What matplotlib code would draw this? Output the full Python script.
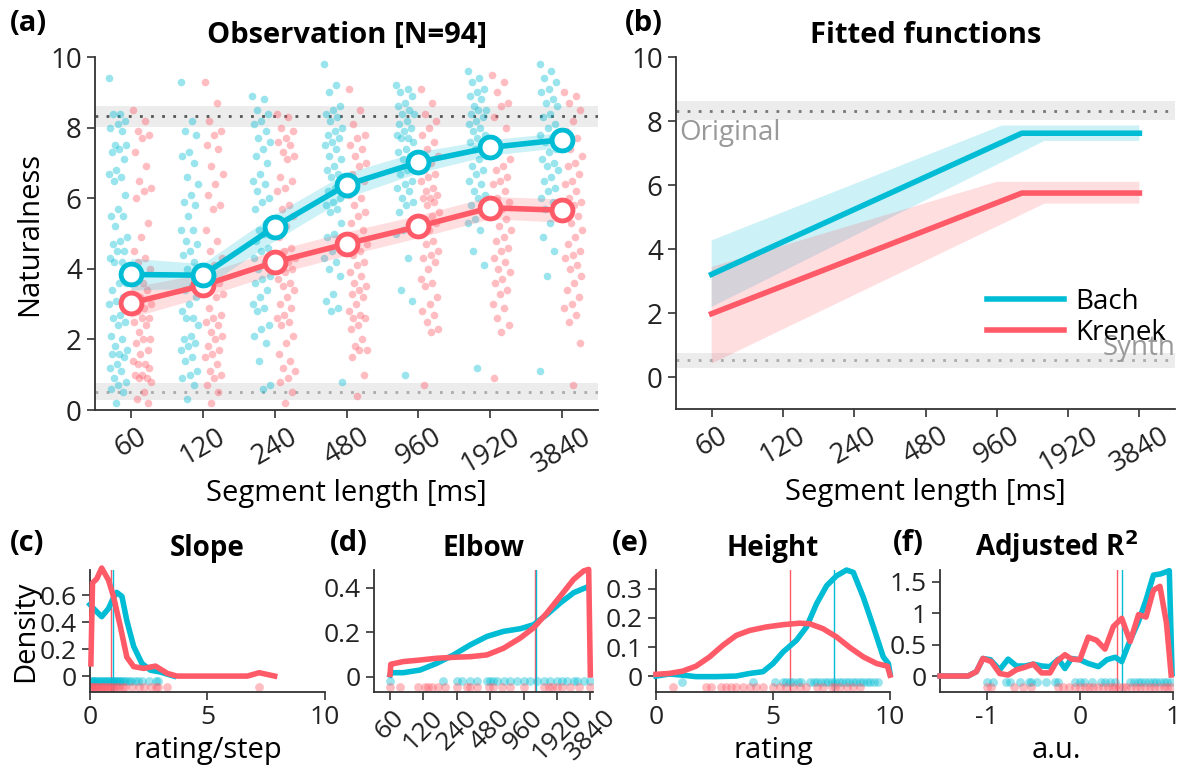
import numpy as np
import matplotlib.pyplot as plt
from matplotlib.ticker import FuncFormatter

plt.rcParams.update({'font.family': ['Open Sans', 'DejaVu Sans'],
                     'axes.unicode_minus': False,
                     'axes.edgecolor': '#333333',
                     'axes.linewidth': 1.3,
                     'xtick.color': '#333333', 'ytick.color': '#333333',
                     'xtick.labelcolor': '#222222', 'ytick.labelcolor': '#222222'})

BLUE = '#00BCD4'
RED = '#FF5A68'

# ---- data ----
seg_labels = ['60', '120', '240', '480', '960', '1920', '3840']
seg_ms = [60, 120, 240, 480, 960, 1920, 3840]

bach_mean = [3.84, 3.82, 5.19, 6.38, 7.02, 7.44, 7.66]
bach_lo = [3.40, 3.45, 4.80, 6.02, 6.72, 7.22, 7.44]
bach_hi = [4.30, 4.15, 5.55, 6.72, 7.32, 7.66, 7.86]
krenek_mean = [3.03, 3.53, 4.19, 4.71, 5.20, 5.73, 5.66]
krenek_lo = [2.62, 3.20, 3.85, 4.38, 4.88, 5.42, 5.32]
krenek_hi = [3.48, 3.86, 4.52, 5.05, 5.52, 6.05, 5.98]

bach_pts = [
    [9.4, 8.4, 8.4, 8.2, 8.1, 8.0, 7.9, 7.5, 7.5, 7.4, 7.3, 7.1, 6.8, 6.7, 6.6, 6.5, 6.1, 5.7, 5.5, 5.5,
     5.2, 4.9, 4.8, 4.7, 4.5, 4.5, 4.3, 4.2, 4.2, 3.6, 3.6, 3.4, 3.2, 3.1, 3.0, 2.7, 2.6, 2.5, 2.4, 2.1,
     2.0, 1.8, 1.7, 1.6, 1.6, 1.5, 1.3, 1.2, 1.1, 0.9, 0.8, 0.7, 0.6, 0.5, 0.2],
    [9.3, 8.2, 7.9, 7.8, 7.3, 7.2, 7.0, 6.6, 6.4, 6.1, 5.9, 5.8, 5.5, 5.1, 5.1, 4.8, 4.7, 4.5, 4.4, 4.2,
     4.0, 3.6, 3.5, 3.4, 3.2, 3.0, 2.8, 2.6, 2.6, 2.4, 2.1, 2.0, 1.9, 1.8, 1.7, 1.5, 1.4, 1.1, 1.0, 0.9,
     0.7, 0.3],
    [8.9, 8.8, 8.5, 8.4, 8.2, 8.1, 7.9, 7.7, 7.6, 7.4, 7.2, 7.0, 6.7, 6.5, 6.4, 6.2, 6.0, 5.9, 5.7, 5.3,
     5.1, 5.1, 5.0, 4.8, 4.6, 4.5, 4.3, 4.2, 4.0, 3.8, 3.7, 3.6, 3.4, 3.2, 3.0, 2.9, 2.8, 2.4, 2.3, 2.1,
     1.9, 1.4, 0.7, 0.6],
    [9.8, 9.2, 9.0, 8.6, 8.5, 8.4, 8.3, 8.2, 8.0, 7.9, 7.8, 7.7, 7.6, 7.5, 7.4, 7.2, 7.1, 6.9, 6.8, 6.7,
     6.6, 6.5, 6.3, 6.2, 6.0, 5.9, 5.8, 5.7, 5.6, 5.3, 5.0, 4.9, 4.8, 4.5, 4.3, 4.2, 4.0, 3.8, 3.3, 3.1,
     2.9, 2.8, 0.8],
    [9.2, 9.1, 9.0, 8.9, 8.7, 8.6, 8.5, 8.4, 8.4, 8.2, 8.1, 8.0, 7.9, 7.8, 7.7, 7.7, 7.6, 7.4, 7.3, 7.2,
     7.1, 6.9, 6.8, 6.7, 6.5, 6.4, 6.3, 6.2, 6.0, 5.9, 5.8, 5.6, 5.3, 5.1, 5.0, 4.3, 3.4, 3.1, 1.0],
    [9.6, 9.4, 9.3, 9.1, 9.0, 8.9, 8.8, 8.6, 8.5, 8.5, 8.4, 8.3, 8.2, 8.1, 8.0, 7.9, 7.8, 7.7, 7.6, 7.5,
     7.4, 7.2, 7.1, 6.9, 6.8, 6.7, 6.5, 6.4, 6.2, 6.1, 6.0, 5.8, 5.6, 5.4, 5.3, 5.1, 4.5, 4.1, 1.2],
    [9.8, 9.6, 9.4, 9.3, 9.1, 9.0, 8.8, 8.7, 8.6, 8.4, 8.3, 8.1, 8.0, 7.8, 7.7, 7.6, 7.4, 7.3, 7.1, 7.0,
     6.9, 6.8, 6.6, 6.5, 6.3, 6.2, 6.0, 5.9, 5.7, 5.5, 5.3, 4.9, 4.5, 3.8, 1.1],
]
krenek_pts = [
    [8.5, 8.2, 7.9, 7.8, 7.7, 7.3, 6.9, 6.5, 6.3, 6.2, 6.0, 5.3, 4.9, 4.5, 4.3, 4.2, 4.0, 3.6, 3.6, 3.4,
     3.2, 3.0, 2.9, 2.8, 2.6, 2.6, 2.5, 2.4, 2.2, 2.0, 2.0, 1.9, 1.7, 1.6, 1.4, 1.3, 1.3, 1.2, 1.0, 1.0,
     0.9, 0.9, 0.8, 0.5, 0.3, 0.2],
    [9.3, 8.7, 8.2, 7.9, 7.8, 7.5, 7.4, 6.9, 6.7, 6.4, 6.1, 5.8, 5.7, 5.1, 4.8, 4.5, 4.3, 4.1, 3.7, 3.6,
     3.5, 3.3, 3.2, 2.9, 2.7, 2.6, 2.5, 2.4, 2.2, 2.1, 2.0, 1.8, 1.7, 1.6, 1.5, 1.3, 1.1, 1.0, 0.9, 0.7,
     0.5, 0.2],
    [8.4, 8.3, 8.0, 7.9, 7.7, 7.6, 7.5, 7.3, 7.2, 7.1, 6.6, 6.5, 6.3, 6.2, 5.8, 5.7, 5.5, 5.2, 4.9, 4.6,
     4.5, 4.3, 4.2, 4.1, 4.0, 3.9, 3.7, 3.6, 3.5, 3.4, 3.2, 3.0, 2.9, 2.7, 2.6, 2.5, 2.4, 2.1, 1.9, 1.6,
     1.4, 1.2, 1.1, 0.9, 0.8, 0.5, 0.2],
    [9.1, 8.5, 8.1, 7.8, 7.7, 7.5, 7.4, 7.2, 7.0, 6.9, 6.7, 6.5, 6.3, 6.1, 6.0, 5.8, 5.6, 5.5, 5.3, 5.1,
     4.9, 4.7, 4.5, 4.4, 4.2, 4.1, 3.9, 3.8, 3.6, 3.5, 3.4, 3.3, 3.2, 3.0, 2.8, 2.7, 2.6, 2.6, 2.4, 2.3,
     2.0, 1.8, 1.7, 1.7, 1.5, 1.0, 0.4],
    [9.1, 8.7, 8.4, 8.2, 8.0, 7.8, 7.6, 7.4, 7.2, 7.0, 6.8, 6.7, 6.6, 6.5, 6.3, 6.2, 6.1, 6.0, 6.0, 5.9,
     5.8, 5.6, 5.5, 5.4, 5.3, 5.1, 5.0, 4.8, 4.7, 4.5, 4.4, 4.3, 4.2, 4.0, 3.7, 3.6, 3.5, 3.2, 3.0, 2.8,
     2.7, 2.5, 2.3, 2.2, 0.7],
    [9.5, 9.3, 9.0, 8.7, 8.6, 8.3, 8.0, 7.6, 7.1, 6.9, 6.8, 6.6, 6.5, 6.4, 6.2, 6.0, 5.9, 5.7, 5.5, 5.4,
     5.2, 5.1, 4.9, 4.8, 4.6, 4.5, 4.3, 4.2, 4.0, 3.9, 3.7, 3.6, 3.4, 3.3, 3.0, 2.9, 2.6, 2.4, 2.2, 0.9],
    [9.0, 8.9, 8.7, 8.5, 8.2, 7.9, 7.7, 7.4, 7.2, 7.0, 6.9, 6.7, 6.5, 6.4, 6.2, 6.0, 5.9, 5.8, 5.6, 5.5,
     5.3, 5.1, 4.9, 4.7, 4.5, 4.4, 4.3, 4.1, 4.0, 3.8, 3.6, 3.4, 3.2, 3.0, 2.9, 2.7, 2.5, 1.9, 0.7],
]

original_mean, original_lo, original_hi = 8.32, 8.02, 8.62
synth_mean, synth_lo, synth_hi = 0.52, 0.28, 0.76

# fitted functions (segment length in ms, rating)
fit_x = [60, 1225, 3840]
bach_fit = [3.21, 7.62, 7.62]
krenek_fit = [1.98, 5.75, 5.75]
bach_band_hi_x, bach_band_hi = [60, 1008, 3840], [4.27, 7.86, 7.86]
bach_band_lo_x, bach_band_lo = [60, 1527, 3840], [2.19, 7.38, 7.38]
krenek_band_hi_x, krenek_band_hi = [60, 960, 3840], [3.44, 6.10, 6.10]
krenek_band_lo_x, krenek_band_lo = [60, 1527, 3840], [0.42, 5.42, 5.42]

# (c) slope densities
slope_bx = [0.0, 0.21, 0.5, 0.79, 1.0, 1.14, 1.36, 1.57, 1.86, 2.21, 2.57, 3.0, 3.43, 3.57]
slope_by = [0.53, 0.49, 0.44, 0.50, 0.58, 0.62, 0.59, 0.41, 0.22, 0.094, 0.044, 0.03, 0.007, 0.0]
slope_rx = [0.04, 0.11, 0.29, 0.5, 0.79, 1.0, 1.29, 1.57, 1.86, 2.29, 2.79, 3.29, 3.7, 6.7, 7.2, 7.86]
slope_ry = [0.09, 0.69, 0.72, 0.80, 0.71, 0.59, 0.37, 0.14, 0.07, 0.057, 0.074, 0.02, 0.0, 0.0, 0.025, 0.0]
slope_med_b, slope_med_r = 1.0, 0.89
slope_rug_b = [0.03, 0.08, 0.12, 0.18, 0.22, 0.3, 0.35, 0.42, 0.48, 0.55, 0.6, 0.68, 0.74, 0.8, 0.86,
               0.92, 0.98, 1.04, 1.1, 1.16, 1.22, 1.3, 1.38, 1.46, 1.55, 1.65, 1.75, 1.9, 2.05, 2.2,
               2.5, 2.8, 2.9]
slope_rug_r = [0.02, 0.06, 0.1, 0.15, 0.2, 0.26, 0.32, 0.38, 0.45, 0.5, 0.58, 0.65, 0.72, 0.8, 0.88,
               0.95, 1.05, 1.15, 1.25, 1.4, 1.5, 1.8, 2.1, 2.3, 2.6, 2.8, 2.9, 3.3, 7.2]

# (d) elbow densities (ms)
elbow_bx = [60, 61, 79, 112, 158, 224, 317, 448, 633, 896, 1182, 1560, 2058, 2715, 3460]
elbow_by = [0.008, 0.018, 0.018, 0.03, 0.06, 0.098, 0.143, 0.181, 0.204, 0.216, 0.234, 0.28, 0.332,
            0.378, 0.40]
elbow_rx = [60, 61, 79, 112, 158, 240, 317, 448, 633, 896, 1182, 1560, 2058, 2715, 3343, 3710, 3840]
elbow_ry = [0.01, 0.056, 0.068, 0.075, 0.083, 0.088, 0.09, 0.098, 0.128, 0.174, 0.22, 0.287, 0.362,
            0.438, 0.476, 0.483, 0.008]
elbow_med_b, elbow_med_r = 1240, 1225
elbow_rug_b = [60, 182, 240, 266, 317, 364, 448, 480, 514, 551, 633, 728, 836, 960, 1103, 1267, 1455,
               1672, 1920, 2130, 2364, 2715, 2910, 3343, 3840]
elbow_rug_r = [60, 74, 108, 124, 133, 143, 164, 188, 240, 296, 317, 364, 464, 514, 612, 728, 960,
               1455, 1614, 1730, 1920, 2130, 2534, 3010, 3840]

# (e) height densities
height_bx = [0.0, 0.57, 1.14, 1.71, 2.57, 3.43, 4.0, 4.57, 5.0, 5.43, 6.0, 6.43, 6.86, 7.29, 7.71,
             8.14, 8.43, 8.86, 9.29, 9.71, 9.93, 10.0]
height_by = [0.0, 0.007, 0.003, -0.002, -0.002, 0.0, 0.009, 0.015, 0.043, 0.083, 0.123, 0.169, 0.249,
             0.311, 0.345, 0.365, 0.357, 0.271, 0.169, 0.066, 0.043, 0.009]
height_rx = [0.0, 0.57, 1.14, 1.71, 2.29, 2.86, 3.43, 4.0, 4.71, 5.43, 6.14, 6.57, 7.14, 7.71, 8.29,
             8.86, 9.43, 9.89, 10.0]
height_ry = [0.006, 0.009, 0.017, 0.034, 0.066, 0.106, 0.140, 0.157, 0.169, 0.177, 0.182, 0.18, 0.163,
             0.135, 0.098, 0.066, 0.043, 0.034, 0.003]
height_med_b, height_med_r = 7.6, 5.74
height_rug_b = [1.1, 4.15, 5.07, 5.43, 5.57, 5.71, 5.86, 6.07, 6.21, 6.6, 6.75, 6.9, 7.05, 7.2, 7.35,
                7.5, 7.65, 7.8, 7.95, 8.1, 8.25, 8.4, 8.55, 8.7, 8.85, 9.0, 9.15, 9.3, 9.5]
height_rug_r = [0.71, 2.14, 2.36, 2.79, 3.0, 3.21, 3.43, 3.71, 4.0, 4.29, 4.57, 5.0, 5.29, 5.57, 5.86,
                6.14, 6.43, 6.86, 7.14, 7.5, 7.64, 7.86, 8.14, 8.43, 8.71]

# (f) adjusted R^2 densities
r2_bx = [-1.5, -1.2, -1.11, -1.04, -0.96, -0.86, -0.77, -0.68, -0.59, -0.5, -0.41, -0.32, -0.23, -0.16,
         -0.09, 0.0, 0.09, 0.2, 0.29, 0.38, 0.45, 0.54, 0.63, 0.71, 0.79, 0.87, 0.96, 0.99]
r2_by = [0.0, 0.0, 0.07, 0.28, 0.26, 0.10, 0.27, 0.16, 0.16, 0.19, 0.16, 0.15, 0.27, 0.12, 0.28, 0.26,
         0.20, 0.15, 0.26, 0.30, 0.23, 0.57, 0.87, 1.21, 1.61, 1.63, 1.68, 0.04]
r2_rx = [-1.5, -1.2, -1.11, -1.04, -0.95, -0.86, -0.77, -0.68, -0.59, -0.5, -0.41, -0.32, -0.25, -0.16,
         -0.09, 0.0, 0.09, 0.18, 0.27, 0.36, 0.45, 0.54, 0.63, 0.71, 0.79, 0.86, 0.93, 0.98]
r2_ry = [0.0, 0.0, 0.07, 0.28, 0.23, 0.04, 0.016, 0.10, 0.14, 0.19, 0.05, 0.05, 0.23, 0.34, 0.27, 0.26,
         0.62, 0.57, 0.43, 0.79, 0.92, 0.55, 0.98, 0.94, 1.37, 1.43, 0.84, 0.016]
r2_med_b, r2_med_r = 0.45, 0.40
r2_rug_b = [-1.0, -0.93, -0.79, -0.75, -0.64, -0.55, -0.52, -0.46, -0.36, -0.27, -0.23, -0.05, 0.0,
            0.05, 0.13, 0.23, 0.27, 0.32, 0.38, 0.54, 0.58, 0.62, 0.66, 0.7, 0.74, 0.78, 0.82, 0.86,
            0.9, 0.94, 0.98]
r2_rug_r = [-1.0, -0.95, -0.71, -0.61, -0.52, -0.23, -0.18, -0.12, -0.05, 0.0, 0.06, 0.1, 0.14, 0.2,
            0.25, 0.3, 0.34, 0.38, 0.42, 0.46, 0.5, 0.55, 0.6, 0.65, 0.7, 0.75, 0.8, 0.85, 0.9, 0.94,
            0.98]


def jitter(n, width=0.13):
    k = np.arange(n)
    return ((k * 0.6180339887) % 1.0 - 0.5) * 2 * width


def style_axes(ax):
    ax.spines['top'].set_visible(False)
    ax.spines['right'].set_visible(False)
    ax.tick_params(direction='out', length=6, width=1.2)


fig = plt.figure(figsize=(11.82, 7.69), dpi=100)
TOP_FS = 20
BOT_FS = 19

# ---- (a) observation ----
ax = fig.add_axes([0.0804, 0.4668, 0.4255, 0.4590])
x = np.arange(1, 8)
ax.axhspan(original_lo, original_hi, color='#ececec', lw=0, zorder=0)
ax.axhline(original_mean, ls=(0, (1, 3)), color='#555555', lw=2, zorder=1)
ax.axhspan(synth_lo, synth_hi, color='#ececec', lw=0, zorder=0)
ax.axhline(synth_mean, ls=(0, (1, 3)), color='#aaaaaa', lw=2, zorder=1)
for i in range(7):
    bp = bach_pts[i]
    kp = krenek_pts[i]
    ax.scatter(x[i] - 0.18 + jitter(len(bp)), bp, s=30, color=BLUE, alpha=0.4, lw=0, zorder=2)
    ax.scatter(x[i] + 0.16 + jitter(len(kp)), kp, s=30, color=RED, alpha=0.4, lw=0, zorder=2)
ax.fill_between(x, krenek_lo, krenek_hi, color=RED, alpha=0.2, lw=0, zorder=3)
ax.fill_between(x, bach_lo, bach_hi, color=BLUE, alpha=0.2, lw=0, zorder=3)
ax.plot(x, krenek_mean, color=RED, lw=4, marker='o', ms=15, mfc='white', mec=RED, mew=3.5, zorder=4)
ax.plot(x, bach_mean, color=BLUE, lw=4, marker='o', ms=15, mfc='white', mec=BLUE, mew=3.5, zorder=5)
ax.set_xlim(0.5, 7.5)
ax.set_ylim(0, 10)
ax.set_xticks(x)
ax.set_xticklabels(seg_labels, rotation=30, fontsize=TOP_FS)
ax.set_yticks([0, 2, 4, 6, 8, 10])
ax.tick_params(axis='y', labelsize=TOP_FS)
ax.set_xlabel('Segment length [ms]', fontsize=TOP_FS + 1, labelpad=0)
ax.set_ylabel('Naturalness', fontsize=TOP_FS + 1)
ax.set_title('Observation [N=94]', fontsize=TOP_FS + 1, fontweight='bold', pad=10)
style_axes(ax)

# ---- (b) fitted functions ----
ax = fig.add_axes([0.5719, 0.4681, 0.4222, 0.4577])
ax.set_xscale('log', base=2)
ax.axhspan(original_lo, original_hi, color='#ececec', lw=0, zorder=0)
ax.axhline(original_mean, ls=(0, (1, 3)), color='#777777', lw=2, zorder=1)
ax.axhspan(synth_lo, synth_hi, color='#ececec', lw=0, zorder=0)
ax.axhline(synth_mean, ls=(0, (1, 3)), color='#aaaaaa', lw=2, zorder=1)
ax.fill(np.r_[bach_band_hi_x, bach_band_lo_x[::-1]], np.r_[bach_band_hi, bach_band_lo[::-1]],
        color=BLUE, alpha=0.2, lw=0, zorder=2)
ax.fill(np.r_[krenek_band_hi_x, krenek_band_lo_x[::-1]], np.r_[krenek_band_hi, krenek_band_lo[::-1]],
        color=RED, alpha=0.2, lw=0, zorder=2)
ax.plot(fit_x, bach_fit, color=BLUE, lw=4, label='Bach', zorder=4)
ax.plot(fit_x, krenek_fit, color=RED, lw=4, label='Krenek', zorder=4)
ax.text(60 * 2 ** -0.45, original_lo + 0.05, 'Original', color='#999999', fontsize=TOP_FS,
        va='top', ha='left')
ax.text(60 * 2 ** 6.5, 0.68, 'Synth', color='#999999', fontsize=TOP_FS, va='baseline', ha='right')
ax.legend(loc='upper left', bbox_to_anchor=(0.6, 0.375), frameon=False, fontsize=TOP_FS,
          handlelength=2.8, handletextpad=0.4, labelspacing=0.1, borderaxespad=0)
ax.set_xlim(60 * 2 ** -0.5, 60 * 2 ** 6.5)
ax.set_ylim(-1, 10)
ax.set_xticks(seg_ms)
ax.set_xticklabels(seg_labels, rotation=30, fontsize=TOP_FS)
ax.minorticks_off()
ax.set_yticks([0, 2, 4, 6, 8, 10])
ax.tick_params(axis='y', labelsize=TOP_FS)
ax.set_xlabel('Segment length [ms]', fontsize=TOP_FS + 1, labelpad=0)
ax.set_title('Fitted functions', fontsize=TOP_FS + 1, fontweight='bold', pad=10)
style_axes(ax)

fmt = FuncFormatter(lambda v, p: '%g' % v)


def density_panel(rect, title, bx, by, rx, ry, med_b, med_r, rug_b, rug_r, rug_yb, rug_yr,
                  xlim, ylim, yticks):
    ax = fig.add_axes(rect)
    ax.axvline(med_r, color=RED, lw=1, zorder=1)
    ax.axvline(med_b, color=BLUE, lw=1, zorder=1)
    ax.scatter(rug_b, [rug_yb] * len(rug_b), s=40, color=BLUE, alpha=0.4, lw=0, zorder=2)
    ax.scatter(rug_r, [rug_yr] * len(rug_r), s=40, color=RED, alpha=0.4, lw=0, zorder=2)
    ax.plot(bx, by, color=BLUE, lw=4, zorder=3, clip_on=False)
    ax.plot(rx, ry, color=RED, lw=4, zorder=4, clip_on=False)
    ax.set_xlim(*xlim)
    ax.set_ylim(*ylim)
    ax.set_yticks(yticks)
    ax.yaxis.set_major_formatter(fmt)
    ax.tick_params(labelsize=BOT_FS)
    ax.set_title(title, fontsize=BOT_FS + 1, fontweight='bold', pad=10)
    style_axes(ax)
    return ax


ax = density_panel([0.0761, 0.1001, 0.1988, 0.1586], 'Slope', slope_bx, slope_by, slope_rx, slope_ry,
                   slope_med_b, slope_med_r, slope_rug_b, slope_rug_r, -0.035, -0.078,
                   (0, 10), (-0.118, 0.785), [0, 0.2, 0.4, 0.6])
ax.set_xticks([0, 5, 10])
ax.xaxis.set_major_formatter(fmt)
ax.set_xlabel('rating/step', fontsize=BOT_FS + 2)
ax.set_ylabel('Density', fontsize=BOT_FS + 2, labelpad=0)

ax = density_panel([0.3164, 0.1001, 0.1853, 0.1586], 'Elbow', elbow_bx, elbow_by, elbow_rx, elbow_ry,
                   elbow_med_b, elbow_med_r, elbow_rug_b, elbow_rug_r, -0.02, -0.045,
                   (60 * 2 ** -0.48, 60 * 2 ** 6.08), (-0.069, 0.48), [0, 0.2, 0.4])
ax.set_xscale('log', base=2)
ax.set_xlim(60 * 2 ** -0.48, 60 * 2 ** 6.08)
ax.set_xticks(seg_ms)
ax.set_xticklabels(seg_labels, rotation=45, fontsize=BOT_FS)
ax.minorticks_off()

ax = density_panel([0.555, 0.1001, 0.198, 0.1586], 'Height', height_bx, height_by, height_rx, height_ry,
                   height_med_b, height_med_r, height_rug_b, height_rug_r, -0.019, -0.036,
                   (0, 10), (-0.055, 0.365), [0, 0.1, 0.2, 0.3])
ax.set_xticks([0, 5, 10])
ax.xaxis.set_major_formatter(fmt)
ax.set_xlabel('rating', fontsize=BOT_FS + 2)

ax = density_panel([0.7953, 0.1001, 0.1971, 0.1586], 'Adjusted R$^\\mathbf{2}$', r2_bx, r2_by, r2_rx,
                   r2_ry, r2_med_b, r2_med_r, r2_rug_b, r2_rug_r, -0.09, -0.17,
                   (-1.5, 1.0), (-0.255, 1.69), [0, 0.5, 1, 1.5])
ax.set_xticks([-1, 0, 1])
ax.xaxis.set_major_formatter(fmt)
ax.set_xlabel('a.u.', fontsize=BOT_FS + 2)

# panel letters
for lx, ly, lab in [(0.008, 0.988, '(a)'), (0.529, 0.988, '(b)'), (0.008, 0.312, '(c)'),
                    (0.279, 0.312, '(d)'), (0.518, 0.312, '(e)'), (0.755, 0.312, '(f)')]:
    fig.text(lx, ly, lab, fontsize=TOP_FS + 1, fontweight='bold', va='top', ha='left')

fig.savefig('out.png', dpi=100)
